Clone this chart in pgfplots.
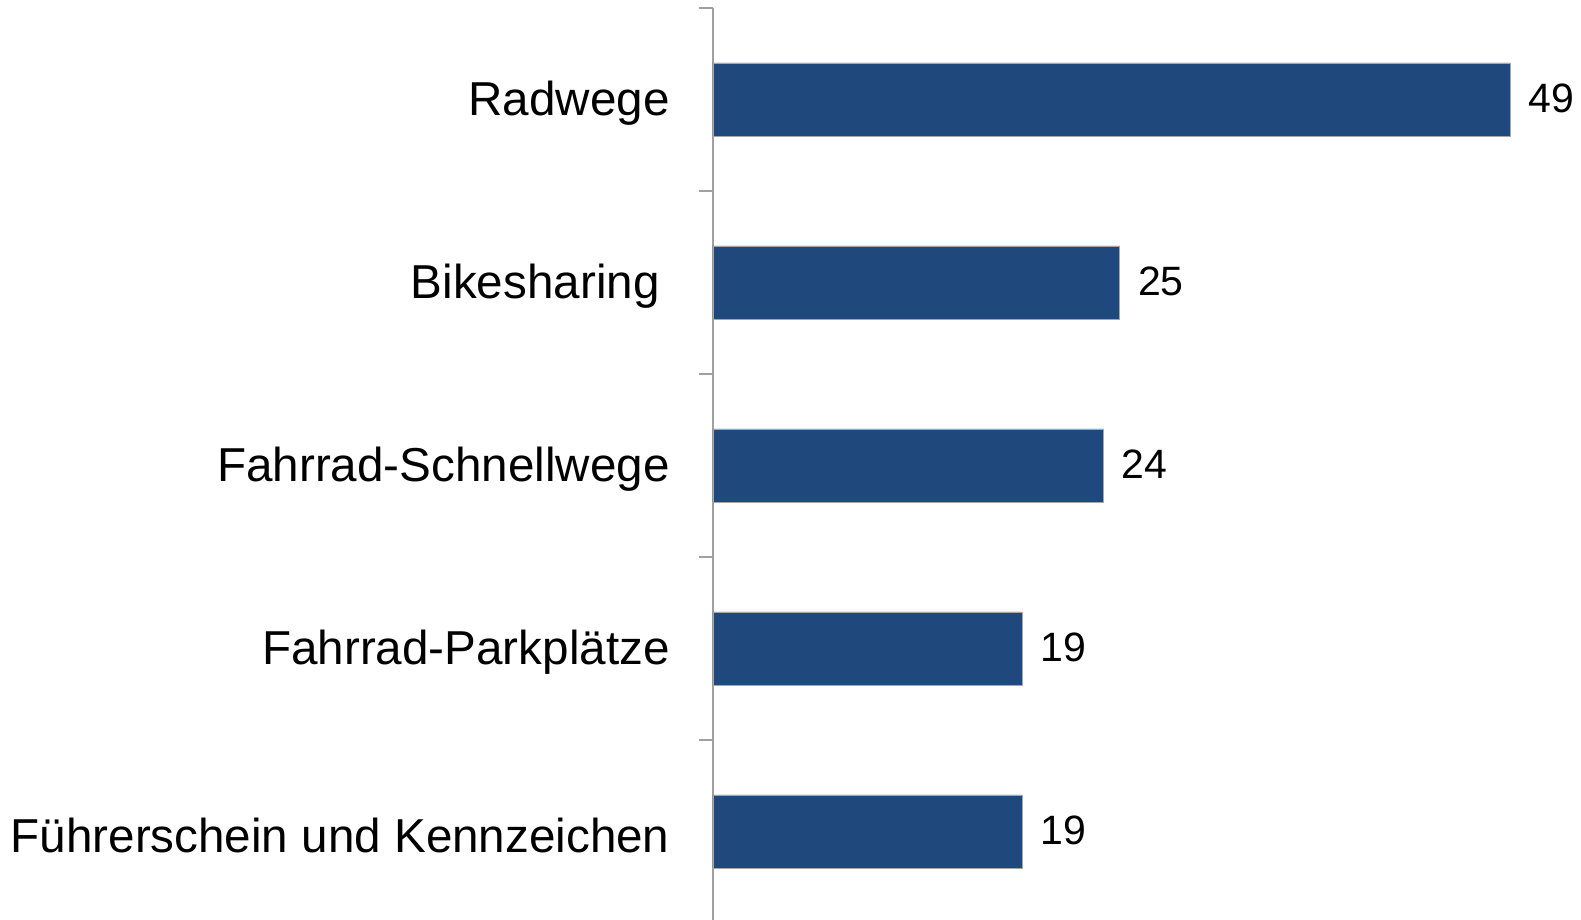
\documentclass[border=0pt]{standalone}
\usepackage{pgfplots}
\pgfplotsset{compat=1.18}
\usepackage{fontspec}
\setmainfont{Liberation Sans}
\definecolor{barblue}{HTML}{1F497D}
\definecolor{axgray}{HTML}{A0A0A0}
\begin{document}
\begin{tikzpicture}
\useasboundingbox (0,0) rectangle (790.5pt,460pt);
\begin{axis}[
  at={(356.5pt,0pt)}, anchor=south west,
  scale only axis,
  width=431pt, height=456pt,
  xmin=0, xmax=53,
  ymin=-0.4836, ymax=4.5,
  xbar, bar width=36.5pt,
  axis x line=none,
  axis y line*=left,
  y axis line style={axgray, line width=1pt},
  ytick={0,1,2,3,4},
  yticklabels={Führerschein und Kennzeichen, Fahrrad-Parkplätze, Fahrrad-Schnellwege, Bikesharing\kern5pt\mbox{}, Radwege},
  major tick length=0pt,
  minor ytick={-0.5,0.5,1.5,2.5,3.5,4.5},
  minor tick length=7pt,
  tick align=outside,
  ytick pos=left,
  minor y tick style={axgray, line width=1pt},
  yticklabel style={font=\fontsize{23.8}{28}\selectfont, inner sep=0pt, xshift=-21.5pt, yshift=-2pt, anchor=east},
  /pgf/number format/assume math mode=true,
  nodes near coords,
  every node near coord/.append style={font=\fontsize{20.5}{24}\selectfont, black, inner sep=0pt, anchor=west, xshift=9pt, yshift=0.5pt},
  clip=false,
]
\addplot[fill=barblue, draw=gray!70, line width=0.4pt] coordinates {
  (19,0) (19,1) (24,2) (25,3) (49,4)
};
\end{axis}
\end{tikzpicture}
\end{document}
